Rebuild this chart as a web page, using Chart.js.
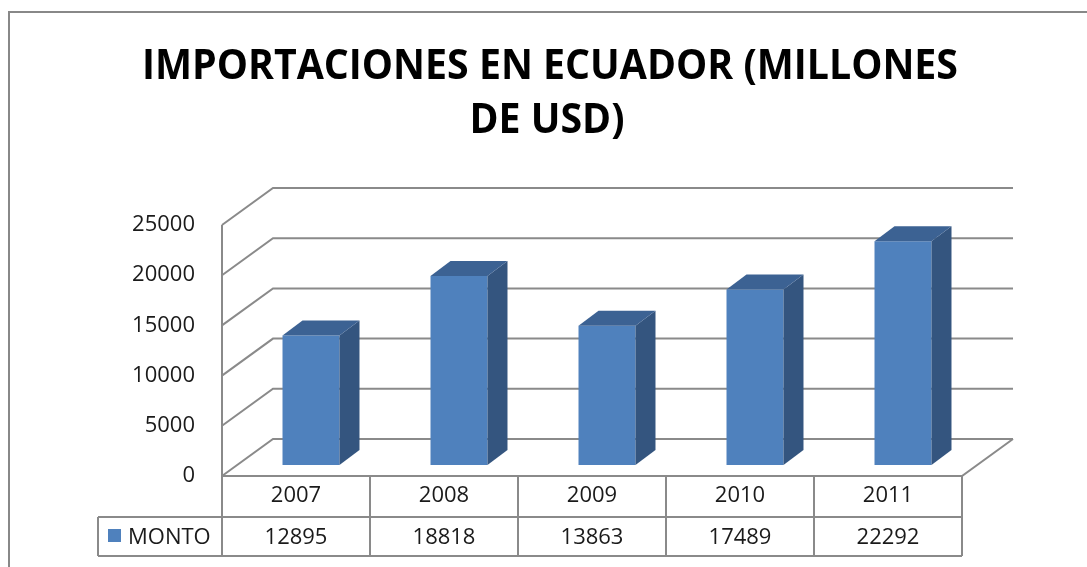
<!DOCTYPE html>
<html>
<head>
<meta charset="utf-8">
<title>Importaciones en Ecuador</title>
<script src="https://cdn.jsdelivr.net/npm/chart.js@4.4.1/dist/chart.umd.min.js"></script>
<style>
  html, body { margin: 0; padding: 0; background: #fff; }
  #chart { display: block; }
</style>
</head>
<body>
<canvas id="chart" width="1087" height="567"></canvas>
<script>
// data
const years = ["2007", "2008", "2009", "2010", "2011"];
const monto = [12895, 18818, 13863, 17489, 22292];
const seriesName = "MONTO";
const titleLines = ["IMPORTACIONES EN ECUADOR (MILLONES", "DE USD)"];
const yMax = 25000;
const yStep = 5000;

const FONT = "'Open Sans', 'Noto Sans', sans-serif";
const GRID = "#8a8a8a";
const BAR_FRONT = "#4f81bd";
const BAR_TOP = "#3c6293";
const BAR_SIDE = "#34557f";

// fake 3d depth
const WALL_DX = 51, WALL_DY = -37;
const SHIFT_X = 15, SHIFT_Y = -11;
const BAR_DX = 20, BAR_DY = -15;

function line(ctx, pts) {
  ctx.beginPath();
  ctx.moveTo(pts[0][0], pts[0][1]);
  for (let i = 1; i < pts.length; i++) ctx.lineTo(pts[i][0], pts[i][1]);
  ctx.stroke();
}

function poly(ctx, pts, color) {
  ctx.beginPath();
  ctx.moveTo(pts[0][0], pts[0][1]);
  for (let i = 1; i < pts.length; i++) ctx.lineTo(pts[i][0], pts[i][1]);
  ctx.closePath();
  ctx.fillStyle = color;
  ctx.fill();
}

const box3d = {
  id: "box3d",
  beforeDraw(chart) {
    const ctx = chart.ctx;
    ctx.save();
    ctx.fillStyle = "#fff";
    ctx.fillRect(0, 0, chart.width, chart.height);
    ctx.restore();
  },
  beforeDatasetsDraw(chart) {
    const { ctx, chartArea: a, scales: { y } } = chart;
    ctx.save();
    ctx.strokeStyle = GRID;
    ctx.lineWidth = 2;
    y.ticks.forEach(t => {
      const yy = y.getPixelForValue(t.value);
      line(ctx, [[a.left, yy], [a.left + WALL_DX, yy + WALL_DY], [a.right + WALL_DX, yy + WALL_DY]]);
    });
    line(ctx, [[a.left, y.getPixelForValue(yMax)], [a.left, a.bottom]]);
    line(ctx, [[a.left, a.bottom], [a.right, a.bottom], [a.right + WALL_DX, a.bottom + WALL_DY]]);
    ctx.restore();

    // bars sit a bit into the box
    ctx.save();
    ctx.translate(SHIFT_X, SHIFT_Y);
  },
  afterDatasetsDraw(chart) {
    const ctx = chart.ctx;
    chart.getDatasetMeta(0).data.forEach(el => {
      const { x, y, base, width } = el.getProps(["x", "y", "base", "width"], true);
      const l = x - width / 2, r = x + width / 2;
      poly(ctx, [[r, y], [r + BAR_DX, y + BAR_DY], [r + BAR_DX, base + BAR_DY], [r, base]], BAR_SIDE);
      poly(ctx, [[l, y], [l + BAR_DX, y + BAR_DY], [r + BAR_DX, y + BAR_DY], [r, y]], BAR_TOP);
    });
    ctx.restore();
  },
  afterDraw(chart) {
    const { ctx, chartArea: a, scales: { x } } = chart;
    const rowMid = 517, rowBot = 556, legLeft = 98;
    const cw = (a.right - a.left) / years.length;

    ctx.save();
    ctx.strokeStyle = GRID;
    ctx.lineWidth = 2;
    for (let i = 0; i <= years.length; i++) {
      const xx = a.left + i * cw;
      line(ctx, [[xx, a.bottom], [xx, rowBot]]);
    }
    line(ctx, [[legLeft, rowMid], [a.right, rowMid]]);
    line(ctx, [[legLeft, rowBot], [a.right, rowBot]]);
    line(ctx, [[legLeft, rowMid], [legLeft, rowBot]]);

    // data table row
    ctx.fillStyle = "#1a1a1a";
    ctx.font = "22px " + FONT;
    ctx.textBaseline = "middle";
    ctx.textAlign = "center";
    const rowY = (rowMid + rowBot) / 2 + 1;
    monto.forEach((v, i) => ctx.fillText(String(v), x.getPixelForValue(i), rowY));
    ctx.textAlign = "left";
    ctx.fillText(seriesName, 128, rowY);
    ctx.fillStyle = BAR_FRONT;
    ctx.fillRect(108, 529, 13, 13);

    // title
    ctx.fillStyle = "#000";
    ctx.font = "bold 42px " + FONT;
    ctx.textAlign = "center";
    ctx.textBaseline = "alphabetic";
    const sx = 816 / ctx.measureText(titleLines[0]).width;
    [[550, 79], [547, 133]].forEach((p, i) => {
      ctx.save();
      ctx.translate(p[0], p[1]);
      ctx.scale(sx, 1);
      ctx.fillText(titleLines[i], 0, 0);
      ctx.restore();
    });

    // outer frame
    ctx.strokeStyle = "#888";
    ctx.lineWidth = 2;
    ctx.strokeRect(9, 12, 1090, 570);
    ctx.restore();
  }
};

new Chart(document.getElementById("chart"), {
  type: "bar",
  data: {
    labels: years,
    datasets: [{
      label: seriesName,
      data: monto,
      backgroundColor: BAR_FRONT,
      borderWidth: 0,
      categoryPercentage: 1,
      barPercentage: 0.385
    }]
  },
  options: {
    responsive: false,
    animation: false,
    layout: { padding: { top: 225, right: 125, left: 0, bottom: 0 } },
    plugins: {
      legend: { display: false },
      title: { display: false },
      tooltip: { enabled: false }
    },
    scales: {
      x: {
        grid: { display: false, drawTicks: false },
        border: { display: false },
        ticks: { color: "#1a1a1a", font: { family: FONT, size: 22 }, padding: 7 },
        afterFit: s => { s.height = 91; }
      },
      y: {
        min: 0,
        max: yMax,
        grid: { display: false, drawTicks: false },
        border: { display: false },
        ticks: {
          stepSize: yStep,
          color: "#1a1a1a",
          font: { family: FONT, size: 22 },
          padding: 27,
          callback: v => String(v)
        },
        afterFit: s => { s.width = 222; }
      }
    }
  },
  plugins: [box3d]
});
</script>
</body>
</html>
